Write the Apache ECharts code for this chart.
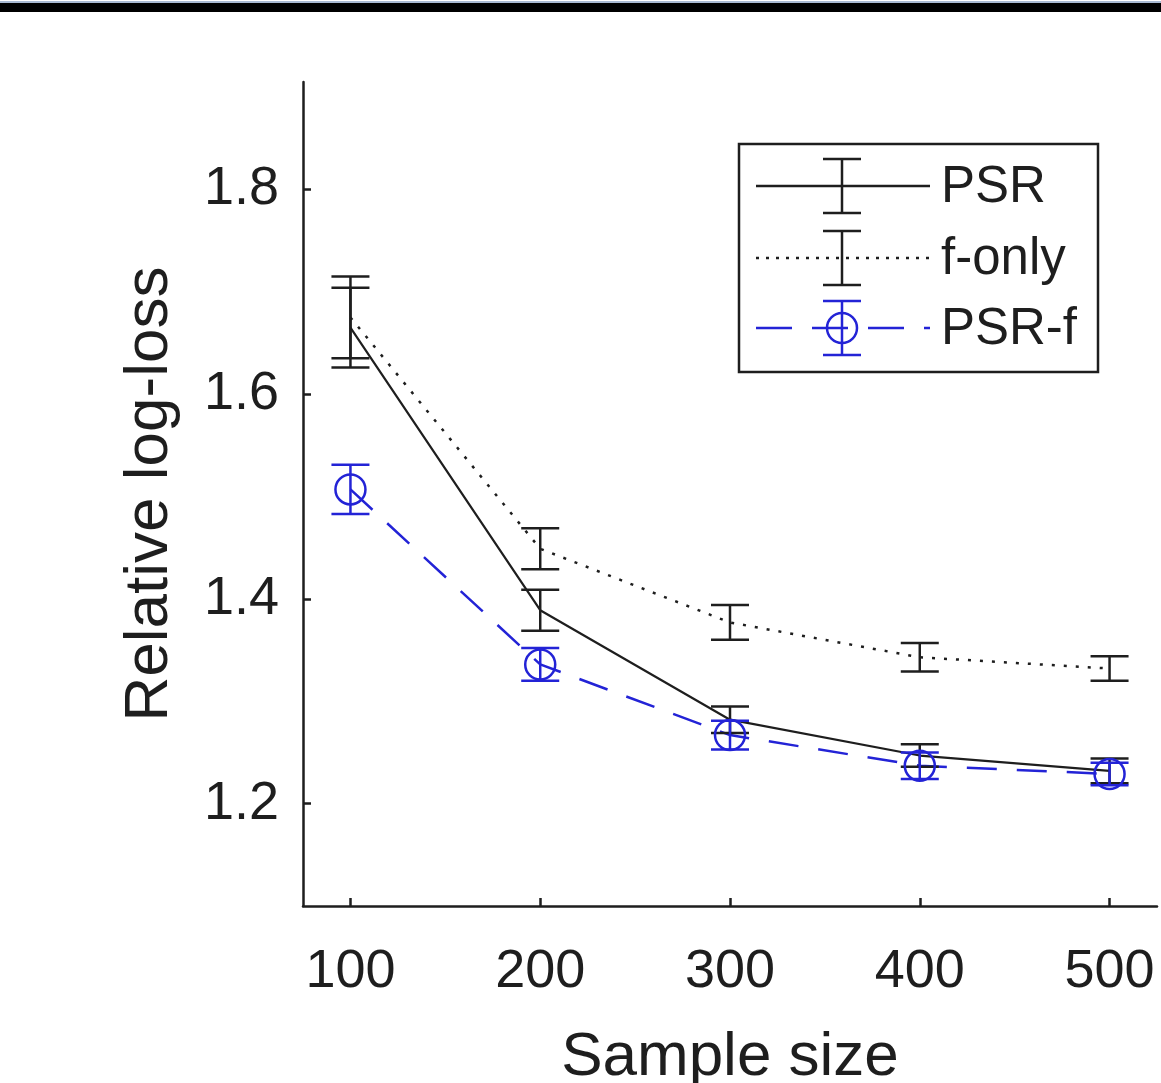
<!DOCTYPE html>
<html>
<head>
<meta charset="utf-8">
<script src="https://cdn.jsdelivr.net/npm/echarts@6/dist/echarts.min.js"></script>
<style>
  html, body { margin: 0; padding: 0; background: #fff; }
  #chart { width: 1161px; height: 1083px; }
</style>
</head>
<body>
<div id="chart"></div>
<script>
// data
var sampleSizes = [100, 200, 300, 400, 500];
var psrMean   = [1.665, 1.389, 1.282, 1.247, 1.232];
var psrErr    = [0.039, 0.020, 0.013, 0.011, 0.012];
var fOnlyMean = [1.675, 1.449, 1.377, 1.343, 1.332];
var fOnlyErr  = [0.040, 0.020, 0.017, 0.014, 0.012];
var psrfMean  = [1.507, 1.336, 1.267, 1.237, 1.229];
var psrfErr   = [0.024, 0.016, 0.014, 0.013, 0.011];
var xTicks = [100, 200, 300, 400, 500];
var yTicks = [1.2, 1.4, 1.6, 1.8];

var BLACK = '#1e1e1e';
var BLUE = '#2323d6';
var FONT = 'Liberation Sans';

function pairs(ys) {
	return sampleSizes.map(function (x, i) { return [x, ys[i]]; });
}
function triples(ys, es) {
	return sampleSizes.map(function (x, i) { return [x, ys[i], es[i]]; });
}

// 误差棒
function errRender(color, circle) {
	return function (params, api) {
		var x = api.value(0), m = api.value(1), e = api.value(2);
		var top = api.coord([x, m + e]);
		var bot = api.coord([x, m - e]);
		var mid = api.coord([x, m]);
		var hw = 19;
		var st = { stroke: color, lineWidth: 2.5, fill: null };
		var kids = [
			{ type: 'line', shape: { x1: top[0], y1: top[1], x2: bot[0], y2: bot[1] }, style: st },
			{ type: 'line', shape: { x1: top[0] - hw, y1: top[1], x2: top[0] + hw, y2: top[1] }, style: st },
			{ type: 'line', shape: { x1: bot[0] - hw, y1: bot[1], x2: bot[0] + hw, y2: bot[1] }, style: st }
		];
		if (circle) {
			kids.push({ type: 'circle', shape: { cx: mid[0], cy: mid[1], r: 15 }, style: { stroke: color, lineWidth: 2.5, fill: null } });
		}
		return { type: 'group', children: kids };
	};
}

// legend drawn by hand
function legendGraphics() {
	var g = [];
	var st = { stroke: BLACK, lineWidth: 2.5 };
	function errbar(cx, cy, color) {
		var s = { stroke: color, lineWidth: 2.5 };
		g.push({ type: 'line', shape: { x1: cx, y1: cy - 27, x2: cx, y2: cy + 27 }, style: s });
		g.push({ type: 'line', shape: { x1: cx - 19, y1: cy - 27, x2: cx + 19, y2: cy - 27 }, style: s });
		g.push({ type: 'line', shape: { x1: cx - 19, y1: cy + 27, x2: cx + 19, y2: cy + 27 }, style: s });
	}
	g.push({ type: 'rect', shape: { x: 739, y: 144, width: 359, height: 228 }, style: { stroke: BLACK, lineWidth: 2.5, fill: '#fff' }, z: 10 });
	var rows = [
		{ y: 186, name: 'PSR' },
		{ y: 258, name: 'f-only' },
		{ y: 328, name: 'PSR-f' }
	];
	g.push({ type: 'line', shape: { x1: 756, y1: rows[0].y, x2: 930, y2: rows[0].y }, style: st, z: 11 });
	g.push({ type: 'line', shape: { x1: 756, y1: rows[1].y, x2: 930, y2: rows[1].y }, style: { stroke: BLACK, lineWidth: 2.5, lineDash: [3, 7] }, z: 11 });
	g.push({ type: 'line', shape: { x1: 756, y1: rows[2].y, x2: 930, y2: rows[2].y }, style: { stroke: BLUE, lineWidth: 2.5, lineDash: [36, 20] }, z: 11 });
	var n = g.length;
	errbar(842, rows[0].y, BLACK);
	errbar(842, rows[1].y, BLACK);
	errbar(842, rows[2].y, BLUE);
	g.push({ type: 'circle', shape: { cx: 842, cy: rows[2].y, r: 15 }, style: { stroke: BLUE, lineWidth: 2.5, fill: null } });
	for (var i = n; i < g.length; i++) g[i].z = 11;
	rows.forEach(function (r) {
		g.push({ type: 'text', left: 941, top: r.y - 24, z: 11,
			style: { text: r.name, font: '51px "' + FONT + '"', fill: BLACK, textVerticalAlign: 'top' } });
	});
	// top border bar
	g.push({ type: 'rect', shape: { x: 0, y: 1, width: 1161, height: 3 }, style: { fill: '#a9bad2' } });
	g.push({ type: 'rect', shape: { x: 0, y: 3, width: 1161, height: 9 }, style: { fill: '#000' } });
	return g;
}

var chart = echarts.init(document.getElementById('chart'));
var option = {
	backgroundColor: '#fff',
	animation: false,
	textStyle: { fontFamily: FONT },
	grid: { left: 303, right: 4, top: 82, bottom: 177, containLabel: false, outerBoundsMode: 'none' },
	xAxis: {
		type: 'value', min: 75, max: 525,
		name: 'Sample size', nameLocation: 'middle', nameGap: 121,
		nameTextStyle: { fontSize: 62, color: BLACK, fontFamily: FONT },
		axisLine: { show: true, lineStyle: { color: BLACK, width: 2.5 } },
		axisTick: { show: true, inside: true, length: 8, customValues: xTicks, lineStyle: { color: BLACK, width: 2.5 } },
		axisLabel: { customValues: xTicks, fontSize: 54, color: BLACK, margin: 39, fontFamily: FONT },
		splitLine: { show: false }
	},
	yAxis: {
		type: 'value', min: 1.1, max: 1.905,
		name: 'Relative log-loss', nameLocation: 'middle', nameGap: 122,
		nameTextStyle: { fontSize: 62, color: BLACK, fontFamily: FONT },
		axisLine: { show: true, lineStyle: { color: BLACK, width: 2.5 } },
		axisTick: { show: true, inside: true, length: 8, customValues: yTicks, lineStyle: { color: BLACK, width: 2.5 } },
		axisLabel: { customValues: yTicks, fontSize: 54, color: BLACK, margin: 24, fontFamily: FONT,
			formatter: function (v) { return v.toFixed(1); } },
		splitLine: { show: false }
	},
	graphic: legendGraphics(),
	series: [
		{ name: 'PSR', type: 'line', data: pairs(psrMean), showSymbol: false, z: 3,
		  lineStyle: { color: BLACK, width: 2.2 } },
		{ name: 'f-only', type: 'line', data: pairs(fOnlyMean), showSymbol: false, z: 3,
		  lineStyle: { color: BLACK, width: 2.5, type: [3, 9] } },
		{ name: 'PSR-f', type: 'line', data: pairs(psrfMean), showSymbol: false, z: 3,
		  lineStyle: { color: BLUE, width: 2.5, type: [30, 20] } },
		{ type: 'custom', data: triples(psrMean, psrErr), renderItem: errRender(BLACK, false), z: 4 },
		{ type: 'custom', data: triples(fOnlyMean, fOnlyErr), renderItem: errRender(BLACK, false), z: 4 },
		{ type: 'custom', data: triples(psrfMean, psrfErr), renderItem: errRender(BLUE, true), z: 4 }
	]
};
chart.setOption(option);
</script>
</body>
</html>
